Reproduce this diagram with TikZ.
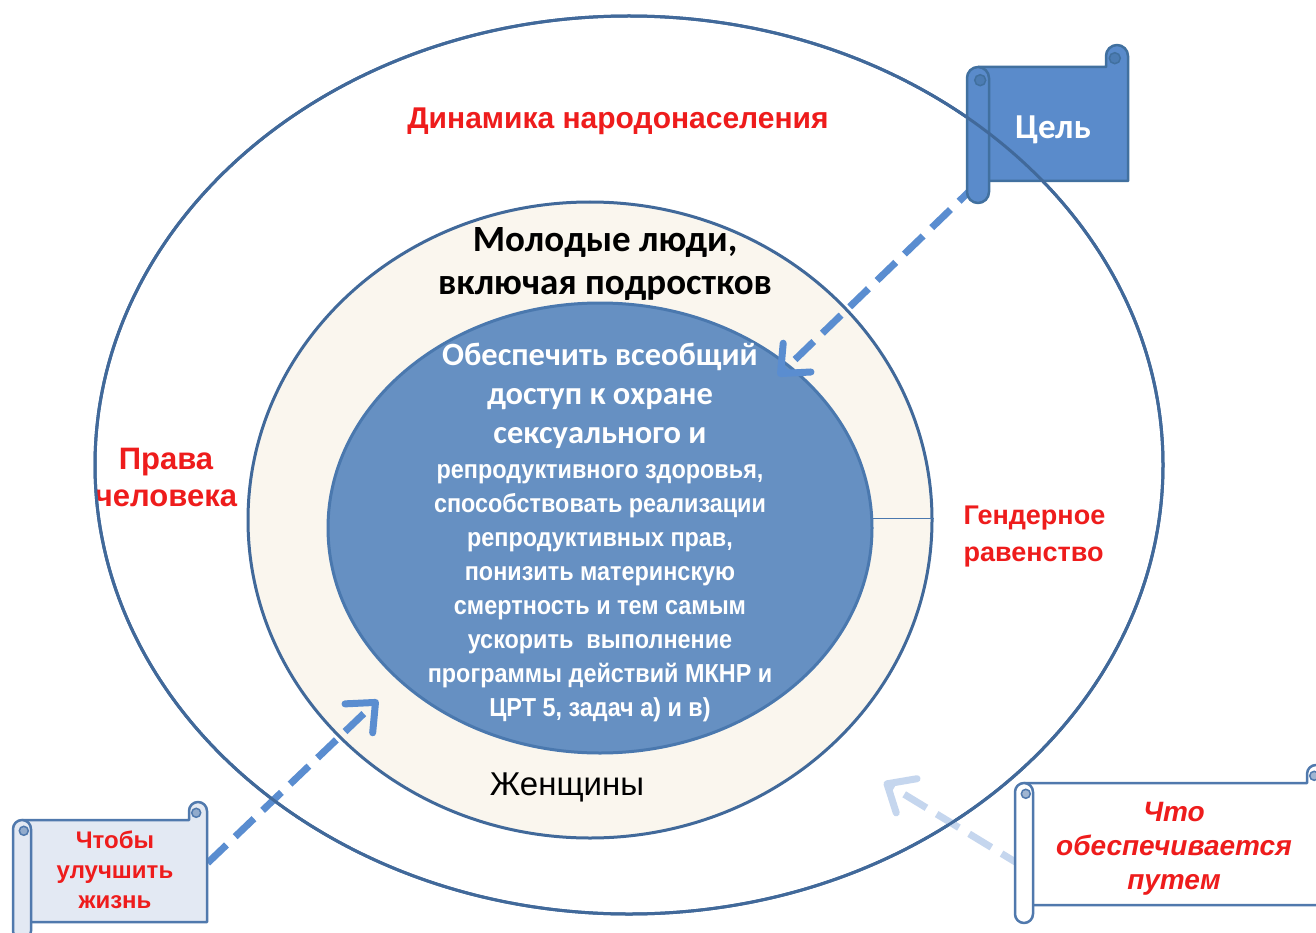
\documentclass[tikz,border=0pt]{standalone}
\usepackage{fontspec}
\setmainfont{Liberation Sans}
\newfontfamily\calfont{Carlito}
\newfontfamily\narrowfont[FakeStretch=0.9]{Liberation Sans}
\usetikzlibrary{shapes.geometric,arrows.meta}
\definecolor{edge}{HTML}{41699A}
\definecolor{coreedge}{HTML}{4A78AE}
\definecolor{corefill}{HTML}{6690C2}
\definecolor{cream}{HTML}{FAF6EE}
\definecolor{arrowblue}{HTML}{5A8DD0}
\definecolor{arrowlight}{HTML}{C5D6EE}
\definecolor{txtred}{HTML}{EE1C1C}
\definecolor{goalfill}{HTML}{5A8BCB}
\definecolor{goaledge}{HTML}{41709F}
\definecolor{lifefill}{HTML}{E3E9F3}
\definecolor{scrolledge}{HTML}{5079AD}
\newcommand\scrolldeco[7]{%
  \filldraw[fill=#6,draw=#7,line width=2.5pt,line join=round]
    ({#1+#5/2},{-(#2+#5)}) -- ({#3-#5},{-(#2+#5)}) -- ({#3-#5},{-(#2+#5/2)})
    arc[start angle=180,end angle=0,radius={#5/2}] -- ({#3},{-(#4-#5)})
    -- ({#1+#5/2},{-(#4-#5)}) -- cycle;
  \filldraw[fill=#7!55!#6,draw=#7,line width=1.5pt]
    ({#3-#5/2-#5/10},{-(#2+#5/2+#5/10)}) circle[radius={#5/4}];
  \filldraw[fill=#6,draw=#7,line width=2.5pt,line join=round]
    ({#1},{-(#2+1.5*#5)}) arc[start angle=180,end angle=0,radius={#5/2}]
    -- ({#1+#5},{-(#4-#5/2)}) arc[start angle=0,end angle=-180,radius={#5/2}] -- cycle;
  \filldraw[fill=#7!55!#6,draw=#7,line width=1.5pt]
    ({#1+#5/2+#5/10},{-(#2+1.5*#5+#5/10)}) circle[radius={#5/4}];
}
\tikzset{
  ring/.style={ellipse,draw=edge,line width=3pt,inner sep=0pt},
  flow/.style={line width=7pt,dash pattern=on 26pt off 12pt,
    -{Straight Barb[round,length=23pt,width=40pt]}},
  redlbl/.style={text=txtred,font=\fontsize{27}{37}\selectfont\bfseries,align=center},
  bodybox/.style={rectangle,inner sep=0pt,align=center},
  goaltext/.style={text=white,font=\calfont\fontsize{35}{40}\selectfont\bfseries},
  lifetext/.style={text=txtred,font=\fontsize{24}{30}\selectfont\bfseries},
  meanstext/.style={text=txtred,font=\fontsize{28}{34}\selectfont\bfseries\itshape},
}
\begin{document}
\begin{tikzpicture}[x=1pt,y=1pt]
\useasboundingbox (0,0) rectangle (1316,-933);
\clip (0,0) rectangle (1316,-933);
\fill[white] (0,0) rectangle (1316,-933);
% ellipses
\node[ring,fill=white,minimum width=1068pt,minimum height=898pt] (outer) at (629,-465) {};
\node[ring,fill=cream,minimum width=684pt,minimum height=636pt] (middle) at (590,-520) {};
\node[ring,draw=coreedge,fill=corefill,minimum width=544pt,minimum height=450pt] (inner) at (600,-528) {};
\draw[coreedge,line width=1.2pt] (inner.2.7) -- (inner.2.7 -| middle.east);
% labels
\node[text=txtred,font=\fontsize{30}{36}\selectfont\bfseries] (dyn) at (618,-121) {Динамика народонаселения};
\node[redlbl,font=\fontsize{31}{37}\selectfont\bfseries] (rights) at (166,-477) {Права\\человека};
\node[redlbl,align=left,anchor=west] (gender) at (960,-537) {Гендерное\\равенство};
\node[align=center,font=\calfont\fontsize{37}{43}\selectfont\bfseries] (youth) at (605,-264) {Молодые люди,\\включая подростков};
\node[font=\fontsize{33}{38}\selectfont] (women) at (567,-787) {Женщины};
\node[align=center,text=white,font=\calfont\fontsize{32.5}{39}\selectfont\bfseries] (goalA) at (600,-396) {Обеспечить всеобщий\\доступ к охране\\сексуального и};
\node[align=center,text=white,font=\narrowfont\fontsize{26}{34}\selectfont\bfseries] (goalB) at (600,-593) {репродуктивного здоровья,\\способствовать реализации\\репродуктивных прав,\\понизить материнскую\\смертность и тем самым\\ускорить\ \ выполнение\\программы действий МКНР и\\ЦРТ 5, задач а) и в)};
% scroll body nodes
\node[bodybox,minimum width=150pt,minimum height=114pt] (goal) at (1053,-126) {};
\node[bodybox,minimum width=185pt,minimum height=102pt] (life) at (115,-871) {};
\node[bodybox,minimum width=300pt,minimum height=122pt] (means) at (1174,-846) {};
\coordinate (tipA) at (778,-376);
\coordinate (tipB) at (378,-700);
\coordinate (tipC) at (884,-782);
% connectors
\draw[flow,arrowblue] (goal.south west) -- (tipA);
\draw[flow,arrowblue] (life.5) -- (tipB);
\draw[flow,arrowlight] (means.188) -- (tipC);
% scroll shapes
\scrolldeco{967}{45}{1128}{203}{22}{goalfill}{goaledge}
\scrolldeco{13}{802}{207}{940}{18}{lifefill}{scrolledge}
\scrolldeco{1015}{765}{1325}{923}{18}{white}{scrolledge}
% outer ring line passes over the goal scroll
\draw[edge,line width=3pt] (outer.center) ellipse[x radius=534pt,y radius=449pt];
% scroll texts
\node[bodybox,goaltext] (goalT) at ([yshift=-4pt]goal.center) {Цель};
\node[bodybox,lifetext] (lifeT) at ([yshift=1pt]life.center) {Чтобы\\улучшить\\жизнь};
\node[bodybox,meanstext] (meansT) at ([yshift=-3pt]means.center) {Что\\обеспечивается\\путем};
\end{tikzpicture}
\end{document}
